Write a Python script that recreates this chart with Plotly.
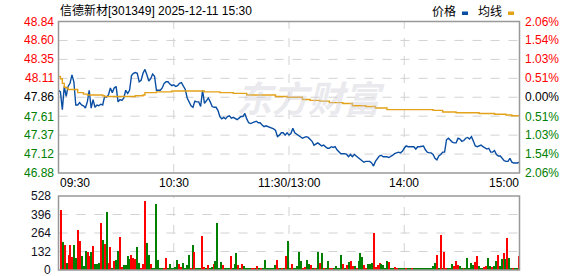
import plotly.graph_objects as go

W, H = 578, 276
prev_close = 47.86
price_ticks = [48.84, 48.60, 48.35, 48.11, 47.86, 47.61, 47.37, 47.12, 46.88]
pct_ticks = ["2.06%", "1.54%", "1.03%", "0.51%", "0.00%", "0.51%", "1.03%", "1.54%", "2.06%"]
vol_ticks = [528, 396, 264, 132, 0]
time_labels = ["09:30", "10:30", "11:30/13:00", "14:00", "15:00"]
title_text = "信德新材[301349] 2025-12-11 15:30"

price = [
    47.95, 47.93, 47.70, 48.00, 47.87, 48.00, 48.04, 48.15, 48.06, 47.76,
    47.76, 47.79, 47.76, 47.75, 47.72, 47.80, 47.95, 47.72, 47.83, 47.73,
    47.76, 47.75, 47.77, 47.76, 47.87, 47.86, 47.89, 47.98, 47.92, 47.98,
    48.00, 47.80, 47.83, 47.82, 47.85, 47.95, 47.91, 47.95, 48.14, 48.17,
    48.18, 48.17, 48.06, 48.08, 48.17, 48.22, 48.15, 48.07, 48.10, 48.16,
    48.13, 47.95, 47.95, 47.95, 47.98, 48.04, 48.06, 48.06, 48.03, 48.01,
    48.02,
    48.00, 48.01, 48.04, 48.05, 48.01, 47.96, 47.85, 47.80, 47.75, 47.73,
    47.81, 47.80, 47.80, 47.74, 47.95, 47.78, 47.82, 47.85, 47.80, 47.74,
    47.73, 47.73, 47.69, 47.61, 47.58, 47.60, 47.58, 47.61, 47.62, 47.59,
    47.60, 47.58, 47.57, 47.59, 47.61, 47.61, 47.65, 47.58, 47.53, 47.52,
    47.53, 47.54, 47.55, 47.53, 47.53, 47.50, 47.48, 47.49, 47.48, 47.48,
    47.47, 47.45, 47.43, 47.35, 47.37, 47.40, 47.40, 47.37, 47.40, 47.37,
    47.39, 47.46, 47.40, 47.38, 47.36, 47.34, 47.33, 47.34, 47.35, 47.34,
    47.32, 47.29, 47.24, 47.25, 47.27, 47.25, 47.23, 47.24, 47.22, 47.20,
    47.20, 47.22, 47.21, 47.22, 47.18, 47.15, 47.13, 47.13, 47.13, 47.12,
    47.09, 47.12, 47.09, 47.12, 47.10, 47.09, 47.06, 47.04, 47.02, 47.03,
    47.03, 47.03, 47.01, 46.97, 47.03, 47.06, 47.10, 47.11, 47.09, 47.09,
    47.09, 47.08, 47.09, 47.11, 47.13, 47.14, 47.15, 47.14, 47.16, 47.20,
    47.23, 47.22, 47.22, 47.22, 47.22, 47.19, 47.22, 47.22, 47.23, 47.23,
    47.18, 47.15, 47.14, 47.14, 47.12, 47.07, 47.05, 47.10, 47.12, 47.15,
    47.15, 47.31, 47.33, 47.30, 47.28, 47.27, 47.27, 47.33, 47.32, 47.29,
    47.30, 47.33, 47.34, 47.32, 47.35, 47.29, 47.23, 47.22, 47.23, 47.24,
    47.22, 47.20, 47.19, 47.20, 47.15, 47.15, 47.17, 47.12, 47.10, 47.10,
    47.07, 47.04, 47.03, 47.03, 47.07, 47.02, 47.01, 47.01, 47.01, 47.02,
]
minutes = list(range(len(price)))

avg_minutes = [0, 1, 2, 3, 4, 5, 9, 10, 13, 15, 23, 24, 40, 44, 45, 51, 59, 76, 84, 91,
               98, 113, 119, 127, 131, 136, 141, 148, 153, 160, 165, 171, 195, 200, 207,
               219, 227, 233, 236, 240]
avg_values = [48.13, 48.10, 48.04, 47.99, 47.98, 47.96, 47.96, 47.92, 47.90, 47.89,
              47.88, 47.87, 47.88, 47.89, 47.92, 47.93, 47.94, 47.93, 47.92, 47.91,
              47.89, 47.87, 47.86, 47.83, 47.82, 47.81, 47.79, 47.78, 47.75, 47.74,
              47.72, 47.70, 47.69, 47.67, 47.66, 47.65, 47.64, 47.63, 47.62, 47.62]

volume = [
    427, 202, 180, 53, 110, 180, 96, 180, 89, 283,
    204, 103, 31, 139, 125, 103, 132, 168, 46, 46,
    53, 336, 214, 182, 413, 53, 161, 10, 67, 74,
    139, 233, 24, 38, 38, 103, 82, 110, 89, 82,
    161, 53, 17, 46, 492, 190, 110, 46, 10, 10,
    470, 74, 10, 10, 10, 89, 10, 46, 10, 10,
    24, 74, 46, 24, 53, 10, 38, 110, 10, 175,
    125, 10, 10, 17, 240, 24, 10, 38, 10, 24,
    46, 67, 334, 10, 60, 38, 10, 17, 17, 103,
    10, 46, 118, 38, 10, 46, 31, 10, 10, 10,
    17, 17, 10, 31, 10, 10, 10, 74, 10, 10,
    10, 10, 38, 74, 17, 10, 10, 10, 103, 204,
    10, 46, 10, 10, 31, 132, 67, 10, 24, 74,
    46, 38, 10, 17, 10, 132, 53, 118, 10, 10,
    67, 10, 10, 10, 31, 10, 10, 110, 46, 10,
    38, 60, 67, 31, 31, 17, 67, 118, 96, 38,
    10, 46, 46, 53, 262, 24, 38, 53, 46, 38,
    10, 67, 60, 10, 10, 24, 10, 10, 10, 10,
    10, 17, 10, 10, 10, 10, 10, 10, 10, 10,
    10, 10, 10, 10, 10, 31, 53, 110, 10, 247,
    10, 125, 17, 10, 10, 46, 26, 67, 38, 31,
    17, 17, 10, 89, 10, 53, 38, 60, 103, 31,
    10, 10, 24, 31, 89, 31, 24, 31, 67, 110,
    31, 82, 118, 82, 226, 89, 10, 10, 10, 10,
    103,
]
# per-bar direction: u = up (red), d = down (green)
vol_dir = list(
    "ududuuuddu" "uddduududd" "dududuudud" "duudddduuu" "dduuuddudd"
    "dddduudddd" "dduuddddud" "uddduududd" "uddddudddu" "dddududddd"
    "uudududddd" "ddduududud"
    "duddddduud" "dududdudud" "duudddddud" "uduududddu" "uddduuuudd"
    "ddudduuddd" "dudduddddd" "dddddddudu" "duuddduuud" "duddddduud"
    "dduudduddu" "ddududdudd" "u"
)
bar_colors = ["#ff0000" if d == "u" else "#008000" for d in vol_dir]
bar_x = list(range(len(volume)))

fig = go.Figure()
fig.add_trace(go.Scatter(x=minutes, y=price, mode="lines",
                         line=dict(color="#0a4ea3", width=1.4), xaxis="x", yaxis="y",
                         hoverinfo="skip"))
fig.add_trace(go.Scatter(x=avg_minutes, y=avg_values, mode="lines", line_shape="hv",
                         line=dict(color="#e3a21a", width=1.4), xaxis="x", yaxis="y",
                         hoverinfo="skip"))
fig.add_trace(go.Bar(x=bar_x, y=volume, marker=dict(color=bar_colors, line=dict(width=0)),
                     width=0.55, xaxis="x2", yaxis="y2", hoverinfo="skip"))

x0, x1 = 58.5, 519.5
my0, my1 = 21.5, 173.0
vy0, vy1 = 196.0, 270.0
def px(v): return v / W
def py(v): return 1 - v / H

fig.update_layout(
    width=W, height=H, margin=dict(l=0, r=0, t=0, b=0),
    paper_bgcolor="white", plot_bgcolor="white", showlegend=False, bargap=0,
    xaxis=dict(domain=[px(x0), px(x1)], range=[0, 240], visible=False, fixedrange=True),
    yaxis=dict(domain=[py(my1), py(my0)], range=[price_ticks[-1], price_ticks[0]],
               visible=False, fixedrange=True),
    xaxis2=dict(domain=[px(x0), px(x1)], range=[-1, 240.6], visible=False, anchor="y2"),
    yaxis2=dict(domain=[py(vy1), py(vy0)], range=[0, vol_ticks[0]], visible=False, anchor="x2"),
)

shapes = []
grid = dict(color="#d2d2d2", width=1, dash="dash")
for k in range(1, 8):
    shapes.append(dict(type="line", xref="x domain", yref="y domain", x0=0, x1=1,
                       y0=k / 8, y1=k / 8, line=grid, layer="below"))
for k in range(1, 4):
    shapes.append(dict(type="line", xref="x domain", yref="y domain", x0=k / 4, x1=k / 4,
                       y0=0, y1=1, line=grid, layer="below"))
    shapes.append(dict(type="line", xref="x2 domain", yref="y2 domain", x0=0, x1=1,
                       y0=k / 4, y1=k / 4, line=grid, layer="below"))
    shapes.append(dict(type="line", xref="x2 domain", yref="y2 domain", x0=k / 4, x1=k / 4,
                       y0=0, y1=1, line=grid, layer="below"))
border = dict(color="#999999", width=1.5)
shapes.append(dict(type="rect", xref="x domain", yref="y domain", x0=0, x1=1, y0=0, y1=1,
                   line=border))
shapes.append(dict(type="rect", xref="x2 domain", yref="y2 domain", x0=0, x1=1, y0=0, y1=1,
                   line=border))
# legend swatches
shapes.append(dict(type="rect", xref="paper", yref="paper", x0=px(462), x1=px(468),
                   y0=py(15), y1=py(11.5), fillcolor="#0a4ea3", line=dict(width=0)))
shapes.append(dict(type="rect", xref="paper", yref="paper", x0=px(508), x1=px(514),
                   y0=py(15), y1=py(11.5), fillcolor="#e3a21a", line=dict(width=0)))
fig.update_layout(shapes=shapes)

num_font = "Liberation Sans, Arial, sans-serif"
ann = []
for v, p in zip(price_ticks, pct_ticks):
    if v > prev_close + 1e-9:
        c = "#ff0000"
    elif v < prev_close - 1e-9:
        c = "#008000"
    else:
        c = "#000000"
    ann.append(dict(x=px(56), xref="paper", y=v, yref="y", text=f"{v:.2f}", showarrow=False,
                    xanchor="right", yanchor="middle", font=dict(family=num_font, size=12, color=c)))
    ann.append(dict(x=px(523), xref="paper", y=v, yref="y", text=p, showarrow=False,
                    xanchor="left", yanchor="middle", font=dict(family=num_font, size=12, color=c)))
for v in vol_ticks:
    ann.append(dict(x=px(53), xref="paper", y=v, yref="y2", text=str(v), showarrow=False,
                    xanchor="right", yanchor="middle",
                    font=dict(family=num_font, size=12, color="#111122")))
time_pos = [(58, "left"), (173.7, "center"), (289, "center"), (404, "center"), (521, "right")]
for t, (xp, anc) in zip(time_labels, time_pos):
    ann.append(dict(x=px(xp), xref="paper", y=py(183), yref="paper", text=t, showarrow=False,
                    xanchor=anc, yanchor="middle",
                    font=dict(family=num_font, size=12, color="#000000")))
ann.append(dict(x=px(58), xref="paper", y=py(10), yref="paper", text=title_text,
                showarrow=False, xanchor="left", yanchor="middle",
                font=dict(family="Liberation Sans, Noto Sans CJK SC, sans-serif", size=12,
                          color="#000000")))
ann.append(dict(x=px(430), xref="paper", y=py(10), yref="paper", text="价格", showarrow=False,
                xanchor="left", yanchor="middle",
                font=dict(family="Noto Sans CJK SC", size=12, color="#000000")))
ann.append(dict(x=px(476), xref="paper", y=py(10), yref="paper", text="均线", showarrow=False,
                xanchor="left", yanchor="middle",
                font=dict(family="Noto Sans CJK SC", size=12, color="#000000")))
ann.append(dict(x=px(310), xref="paper", y=py(96), yref="paper", text="<b><i>东方财富</i></b>",
                showarrow=False, xanchor="center", yanchor="middle",
                font=dict(family="Noto Sans CJK SC", size=36, color="rgba(200,200,212,0.40)")))
fig.update_layout(annotations=ann)

fig.write_html("out.html")
